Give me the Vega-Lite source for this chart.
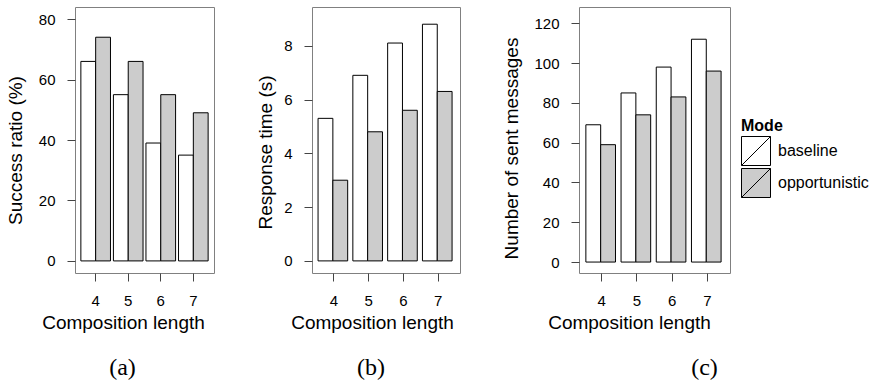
{
  "$schema": "https://vega.github.io/schema/vega-lite/v6.json",
  "padding": {"left": 5, "top": 6, "right": 0, "bottom": 0},
  "data": {"values": [
    {"length": 4, "mode": "baseline", "success": 66, "response": 5.3, "messages": 69},
    {"length": 4, "mode": "opportunistic", "success": 74, "response": 3.0, "messages": 59},
    {"length": 5, "mode": "baseline", "success": 55, "response": 6.9, "messages": 85},
    {"length": 5, "mode": "opportunistic", "success": 66, "response": 4.8, "messages": 74},
    {"length": 6, "mode": "baseline", "success": 39, "response": 8.1, "messages": 98},
    {"length": 6, "mode": "opportunistic", "success": 55, "response": 5.6, "messages": 83},
    {"length": 7, "mode": "baseline", "success": 35, "response": 8.8, "messages": 112},
    {"length": 7, "mode": "opportunistic", "success": 49, "response": 6.3, "messages": 96}
  ]},
  "resolve": {"scale": {"fill": "independent"}, "legend": {"fill": "independent"}},
  "spacing": 41,
  "hconcat": [
    {
      "width": 139, "height": 266,
      "title": {"text": "(a)", "orient": "bottom", "anchor": "middle", "frame": "group", "dx": -22, "offset": 24},
      "mark": {"type": "bar", "stroke": "black", "strokeWidth": 1},
      "encoding": {
        "x": {"field": "length", "type": "ordinal", "scale": {"paddingInner": 0.09, "paddingOuter": 0.18},
              "axis": {"title": "Composition length", "titleX": 48}},
        "xOffset": {"field": "mode", "scale": {"paddingInner": 0, "paddingOuter": 0}},
        "y": {"field": "success", "type": "quantitative", "scale": {"domain": [-4, 84], "zero": false, "nice": false},
              "axis": {"title": "Success ratio (%)", "values": [0, 20, 40, 60, 80], "titlePadding": 13, "titleY": 143}},
        "y2": {"datum": 0},
        "fill": {"field": "mode", "type": "nominal", "scale": {"domain": ["baseline", "opportunistic"], "range": ["#ffffff", "#cccccc"]}, "legend": null}
      }
    },
    {
      "width": 148, "height": 266,
      "title": {"text": "(b)", "orient": "bottom", "anchor": "middle", "frame": "group", "dx": -15, "offset": 24},
      "mark": {"type": "bar", "stroke": "black", "strokeWidth": 1},
      "encoding": {
        "x": {"field": "length", "type": "ordinal", "scale": {"paddingInner": 0.095, "paddingOuter": 0.174},
              "axis": {"title": "Composition length", "titleX": 60}},
        "xOffset": {"field": "mode", "scale": {"paddingInner": 0, "paddingOuter": 0}},
        "y": {"field": "response", "type": "quantitative", "scale": {"domain": [-0.45, 9.44], "zero": false, "nice": false},
              "axis": {"title": "Response time (s)", "values": [0, 2, 4, 6, 8], "titlePadding": 8, "titleY": 145}},
        "y2": {"datum": 0},
        "fill": {"field": "mode", "type": "nominal", "scale": {"domain": ["baseline", "opportunistic"], "range": ["#ffffff", "#cccccc"]}, "legend": null}
      }
    },
    {
      "width": 151, "height": 266,
      "title": {"text": "(c)", "orient": "bottom", "anchor": "middle", "frame": "group", "dx": 50, "offset": 24},
      "mark": {"type": "bar", "stroke": "black", "strokeWidth": 1},
      "encoding": {
        "x": {"field": "length", "type": "ordinal", "scale": {"paddingInner": 0.1, "paddingOuter": 0.195},
              "axis": {"title": "Composition length", "titleX": 50}},
        "xOffset": {"field": "mode", "scale": {"paddingInner": 0, "paddingOuter": 0}},
        "y": {"field": "messages", "type": "quantitative", "scale": {"domain": [-5.5, 128.2], "zero": false, "nice": false},
              "axis": {"title": "Number of sent messages", "values": [0, 20, 40, 60, 80, 100, 120], "titlePadding": 12, "titleY": 141}},
        "y2": {"datum": 0},
        "fill": {"field": "mode", "type": "nominal", "scale": {"domain": ["baseline", "opportunistic"], "range": ["#ffffff", "#cccccc"]},
                 "legend": {"title": "Mode", "orient": "none", "legendX": 162, "legendY": 111,
                            "symbolType": "M-1,-1H1V1H-1ZM-1,1L1,-1", "symbolSize": 841}}
      }
    }
  ],
  "config": {
    "font": "Liberation Sans",
    "view": {"stroke": "#808080", "strokeWidth": 1},
    "axis": {
      "labelFont": "Liberation Sans", "titleFont": "Liberation Sans",
      "labelFontSize": 15, "titleFontSize": 19, "titleFontWeight": "normal",
      "labelColor": "#000000", "titleColor": "#000000", "tickColor": "#444444",
      "domain": false, "grid": false, "tickSize": 8, "labelPadding": 12
    },
    "axisX": {"labelAngle": 0, "titlePadding": 5},
    "title": {"font": "Liberation Serif", "fontSize": 24, "fontWeight": "normal", "color": "#000000"},
    "legend": {
      "titleFont": "Liberation Sans", "titleFontSize": 16, "titleFontWeight": "bold", "titleColor": "#000000",
      "labelFont": "Liberation Sans", "labelFontSize": 16, "labelColor": "#000000",
      "labelOffset": 7, "rowPadding": -7, "padding": 0, "titlePadding": 2,
      "symbolStrokeColor": "#000000", "symbolStrokeWidth": 1, "symbolOpacity": 1
    }
  }
}
